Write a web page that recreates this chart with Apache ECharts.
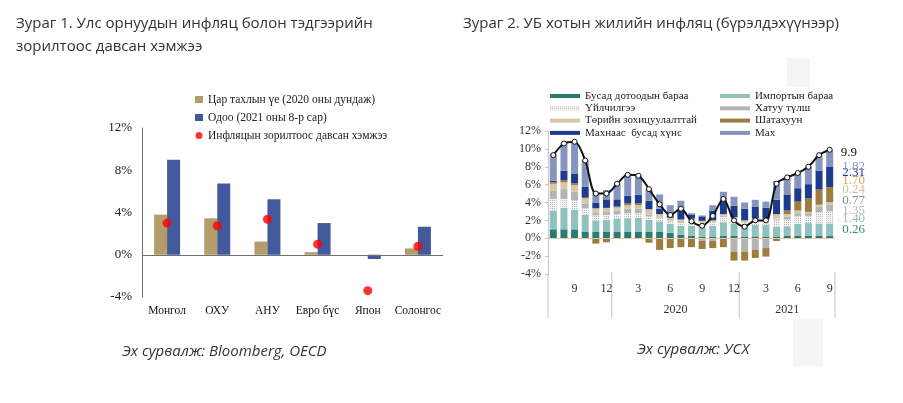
<!DOCTYPE html>
<html>
<head>
<meta charset="utf-8">
<title>Инфляц</title>
<script src="https://cdn.jsdelivr.net/npm/echarts@6/dist/echarts.min.js"></script>
<style>
html, body { margin: 0; padding: 0; background: #fff; }
#main { width: 903px; height: 403px; }
</style>
</head>
<body>
<div id="main"></div>
<script>
// Зураг 1 - улс орнуудын инфляц
var countries = ['Монгол', 'ОХУ', 'АНУ', 'Евро бүс', 'Япон', 'Солонгос'];
var pandemicAvg = [3.8, 3.45, 1.25, 0.25, 0.0, 0.6];
var nowAug2021 = [9.0, 6.75, 5.25, 3.0, -0.4, 2.65];
var overTarget = [3.0, 2.75, 3.35, 1.0, -3.4, 0.8];
var leftTicks = [-4, 0, 4, 8, 12];

// Зураг 2 - УБ хотын инфляц, 2019.7 - 2021.9
var months = ['7', '8', '9', '10', '11', '12',
	'1', '2', '3', '4', '5', '6', '7', '8', '9', '10', '11', '12',
	'1', '2', '3', '4', '5', '6', '7', '8', '9'];
var domestic = [1.0, 1.0, 1.0, 0.75, 0.75, 0.75, 0.75, 0.75, 0.75, 0.75, 0.7, 0.6, 0.4, 0.3, 0.15, 0.2, 0.3, 0.25, 0.2, 0.2, 0.2, 0.2, 0.25, 0.3, 0.3, 0.25, 0.26];
var imported = [2.1, 2.4, 2.2, 1.9, 1.25, 1.3, 1.4, 1.5, 1.55, 1.3, 1.2, 1.0, 1.0, 1.1, 1.2, 1.2, 1.5, 1.4, 1.2, 1.3, 1.3, 1.1, 1.1, 1.3, 1.4, 1.4, 1.40];
var services = [1.3, 1.0, 1.05, 0.7, 0.55, 0.55, 0.55, 0.55, 0.5, 0.4, 0.3, 0.3, 0.3, 0.5, 0.4, 0.4, 0.6, 0.5, 0.4, 0.5, 0.5, 0.8, 0.75, 0.9, 0.8, 1.25, 1.35];
var solidFuel = [0.9, 1.1, 0.95, 0.55, 0.35, 0.4, 0.4, 0.5, 0.5, 0.2, 0.1, 0.1, 0.1, 0.1, -0.3, -0.3, 0.1, -1.5, -1.5, -1.3, -1.1, 0.1, 0.3, 0.3, 0.3, 0.6, 0.77];
var regulated = [0.8, 0.75, 0.75, 0.55, 0.45, 0.4, 0.35, 0.4, 0.4, 0.6, 0.4, 0.3, 0.3, 0.2, 0.2, 0.2, 0.2, 0.2, 0.2, 0.2, 0.2, 0.5, 0.3, 0.3, 0.15, 0.25, 0.24];
var fuel = [0.2, 0.25, 0.2, 0.1, -0.6, -0.45, 0.1, 0.2, 0.2, -0.5, -1.3, -1.1, -1.0, -1.0, -0.9, -0.8, -1.0, -1.0, -1.0, -0.9, -0.95, -0.3, 0.4, 1.0, 1.5, 1.7, 1.70];
var nonMeatFood = [0.15, 1.05, 1.1, 1.2, 0.6, 0.95, 0.8, 0.85, 0.95, 0.95, 0.6, 0.6, 1.0, 0.4, 0.5, 1.1, 1.5, 1.3, 1.3, 1.3, 1.2, 1.6, 1.8, 1.5, 1.6, 2.1, 2.31];
var meat = [3.0, 3.1, 3.5, 3.0, 1.2, 1.05, 1.8, 2.4, 2.2, 1.3, 1.6, 0.8, 1.1, 0.2, 0.1, 0.6, 1.0, 1.0, 0.7, 0.8, 0.7, 2.1, 1.9, 1.7, 1.95, 1.75, 1.82];
var totalInfl = [9.3, 10.6, 10.8, 8.7, 5.0, 5.0, 6.1, 7.1, 7.0, 5.5, 3.8, 2.6, 3.3, 1.9, 1.4, 2.5, 4.4, 2.0, 1.3, 2.0, 2.0, 6.1, 6.8, 7.3, 8.0, 9.3, 9.9];

var serif = '"Liberation Serif", "DejaVu Serif", serif';
var sans = '"Open Sans", "Noto Sans", sans-serif';

var parts = [
	{name: 'Бусад дотоодын бараа', data: domestic, color: '#2c7a70', label: '#3d8a80', dy: -8},
	{name: 'Импортын бараа', data: imported, color: '#8fc1bd', label: '#8fc1bd', dy: -11},
	{name: 'Үйлчилгээ', data: services, color: '#f3f3f3', label: '#b5b5b5', dy: -7},
	{name: 'Хатуу түлш', data: solidFuel, color: '#b4b4b4', label: '#8a8a8a', dy: -7},
	{name: 'Төрийн зохицуулалттай', data: regulated, color: '#d8c7a6', label: '#d3bd95', dy: -14},
	{name: 'Шатахуун', data: fuel, color: '#9e7b3e', label: '#c6a66f', dy: -14},
	{name: 'Махнаас  бусад хүнс', data: nonMeatFood, color: '#1c3b8e', label: '#1c3b8e', dy: -4},
	{name: 'Мах', data: meat, color: '#8595be', label: '#8595be', dy: 8}
];

var last = months.length - 1;
var series = [{
	name: 'Цар тахлын үе (2020 оны дундаж)',
	type: 'bar',
	xAxisIndex: 0,
	yAxisIndex: 0,
	data: pandemicAvg,
	barWidth: 13,
	barGap: '0%',
	itemStyle: {color: '#b49c6b'}
}, {
	name: 'Одоо (2021 оны 8-р сар)',
	type: 'bar',
	xAxisIndex: 0,
	yAxisIndex: 0,
	data: nowAug2021,
	barWidth: 13,
	itemStyle: {color: '#42599b'},
	markLine: {
		silent: true,
		symbol: 'none',
		label: {show: false},
		lineStyle: {color: '#6f6f6f', type: 'solid', width: 1},
		data: [{yAxis: 0}]
	}
}, {
	name: 'Инфляцын зорилтоос давсан хэмжээ',
	type: 'scatter',
	xAxisIndex: 0,
	yAxisIndex: 0,
	data: overTarget,
	symbolSize: 9,
	itemStyle: {color: '#ff0000'},
	z: 5
}];

parts.forEach(function(p, k) {
	var s = {
		name: p.name,
		type: 'bar',
		stack: 'ub',
		xAxisIndex: 1,
		yAxisIndex: 1,
		barWidth: 7,
		itemStyle: {color: p.color},
		data: p.data.map(function(v, i) {
			if (i !== last) return v;
			return {
				value: v,
				label: {
					show: true,
					position: 'right',
					distance: 9,
					offset: [0, p.dy],
					color: p.label,
					fontFamily: serif,
					fontSize: 13,
					formatter: function(prm) { return prm.value.toFixed(2); }
				}
			};
		})
	};
	if (k === 0) {
		s.markLine = {
			silent: true,
			symbol: 'none',
			label: {show: false},
			lineStyle: {color: '#e6c9a6', type: 'solid', width: 1},
			data: [{yAxis: 0}]
		};
	}
	if (k === 2) {
		s.itemStyle.decal = {
			symbol: 'rect',
			symbolSize: 1,
			color: '#b8b8b8',
			dashArrayX: [1, 1],
			dashArrayY: [1, 1],
			rotation: 0
		};
	}
	series.push(s);
});

series.push({
	name: 'Нийт',
	type: 'line',
	xAxisIndex: 1,
	yAxisIndex: 1,
	data: totalInfl.map(function(v, i) {
		if (i !== last) return v;
		return {value: v, label: {show: true, position: 'right', distance: 8, offset: [0, 3], color: '#111', fontFamily: serif, fontSize: 13}};
	}),
	smooth: 0.3,
	symbol: 'circle',
	symbolSize: 5,
	lineStyle: {color: '#111', width: 2},
	itemStyle: {color: '#fff', borderColor: '#111', borderWidth: 1},
	z: 10
});

var staticGraphic = [
	{type: 'rect', shape: {x: 787, y: 58, width: 23, height: 29}, style: {fill: '#f5f5f5'}, z: -10},
	{type: 'rect', shape: {x: 793, y: 319, width: 30, height: 47}, style: {fill: '#f5f5f5'}, z: -10},
	{type: 'text', x: 16, y: 24, style: {text: 'Зураг 1. Улс орнуудын инфляц болон тэдгээрийн', font: '15px ' + sans, fill: '#333', verticalAlign: 'middle'}},
	{type: 'text', x: 16, y: 47, style: {text: 'зорилтоос давсан хэмжээ', font: '15px ' + sans, fill: '#333', verticalAlign: 'middle'}},
	{type: 'text', x: 463, y: 24, style: {text: 'Зураг 2. УБ хотын жилийн инфляц (бүрэлдэхүүнээр)', font: '15px ' + sans, fill: '#333', verticalAlign: 'middle'}},
	{type: 'text', x: 122, y: 352, style: {text: 'Эх сурвалж: Bloomberg, OECD', font: 'italic 15px ' + sans, fill: '#333', verticalAlign: 'middle'}},
	{type: 'text', x: 637, y: 350, style: {text: 'Эх сурвалж: УСХ', font: 'italic 15px ' + sans, fill: '#333', verticalAlign: 'middle'}}
];

var option = {
	animation: false,
	backgroundColor: '#fff',
	grid: [
		{left: 142, top: 128, width: 301, height: 169},
		{left: 548, top: 131, width: 287, height: 143}
	],
	legend: [{
		data: [
			{name: 'Цар тахлын үе (2020 оны дундаж)', icon: 'rect'},
			{name: 'Одоо (2021 оны 8-р сар)', icon: 'rect'},
			{name: 'Инфляцын зорилтоос давсан хэмжээ', icon: 'circle'}
		],
		orient: 'vertical',
		left: 190,
		top: 88,
		itemWidth: 8,
		itemHeight: 7,
		itemGap: 5,
		textStyle: {fontFamily: serif, fontSize: 11.5, color: '#222', lineHeight: 13}
	}, {
		data: [parts[0].name, parts[2].name, parts[4].name, parts[6].name],
		orient: 'vertical',
		left: 545,
		top: 85,
		icon: 'rect',
		itemWidth: 30,
		itemHeight: 4,
		itemGap: 0.3,
		textStyle: {fontFamily: serif, fontSize: 11, color: '#222', lineHeight: 12}
	}, {
		data: [parts[1].name, parts[3].name, parts[5].name, parts[7].name],
		orient: 'vertical',
		left: 715,
		top: 85,
		icon: 'rect',
		itemWidth: 30,
		itemHeight: 4,
		itemGap: 0.3,
		textStyle: {fontFamily: serif, fontSize: 11, color: '#222', lineHeight: 12}
	}],
	xAxis: [{
		type: 'category',
		gridIndex: 0,
		data: countries,
		axisLine: {show: false},
		axisTick: {show: false},
		axisLabel: {fontFamily: serif, fontSize: 11.5, color: '#111', margin: 8, interval: 0, hideOverlap: false}
	}, {
		type: 'category',
		gridIndex: 1,
		data: months,
		axisLine: {show: false},
		axisTick: {show: false},
		axisLabel: {
			fontFamily: serif, fontSize: 12, color: '#333', margin: 9,
			interval: function(i) { return i % 3 === 2; }
		}
	}],
	yAxis: [{
		type: 'value',
		gridIndex: 0,
		min: leftTicks[0],
		max: leftTicks[leftTicks.length - 1],
		interval: 4,
		axisLine: {show: true, lineStyle: {color: '#6f6f6f'}},
		axisTick: {show: false},
		splitLine: {show: false},
		axisLabel: {fontFamily: serif, fontSize: 13, color: '#222', margin: 10, formatter: '{value}%'}
	}, {
		type: 'value',
		gridIndex: 1,
		min: -4,
		max: 12,
		interval: 2,
		axisLine: {show: true, lineStyle: {color: '#c4c4c4'}},
		axisTick: {show: true, length: 3, lineStyle: {color: '#c4c4c4'}},
		splitLine: {show: false},
		axisLabel: {fontFamily: serif, fontSize: 12, color: '#333', margin: 7, formatter: '{value}%'}
	}],
	series: series,
	graphic: staticGraphic
};

var chart = echarts.init(document.getElementById('main'));
chart.setOption(option);

// жилийн тусгаарлагч шугам, оны шошго
var px = function(i) { return chart.convertToPixel({xAxisIndex: 1}, i); };
var yBottom = chart.convertToPixel({yAxisIndex: 1}, -4);
var half = (px(1) - px(0)) / 2;
var sepXs = [px(0) - half, (px(5) + px(6)) / 2, (px(17) + px(18)) / 2, px(last) + half];
var extra = staticGraphic.slice();
sepXs.forEach(function(x, k) {
	extra.push({
		type: 'line',
		shape: {x1: x, y1: k === 0 ? yBottom : yBottom - 2, x2: x, y2: 318},
		style: {stroke: '#c4c4c4', lineWidth: 1}
	});
});
var yearSpans = [['2020', 6, 17], ['2021', 18, last]];
yearSpans.forEach(function(ys) {
	extra.push({
		type: 'text',
		x: (px(ys[1]) + px(ys[2])) / 2,
		y: 310,
		style: {text: ys[0], font: '12px ' + serif, fill: '#333', align: 'center', verticalAlign: 'middle'}
	});
});
chart.setOption({graphic: extra});
</script>
</body>
</html>
